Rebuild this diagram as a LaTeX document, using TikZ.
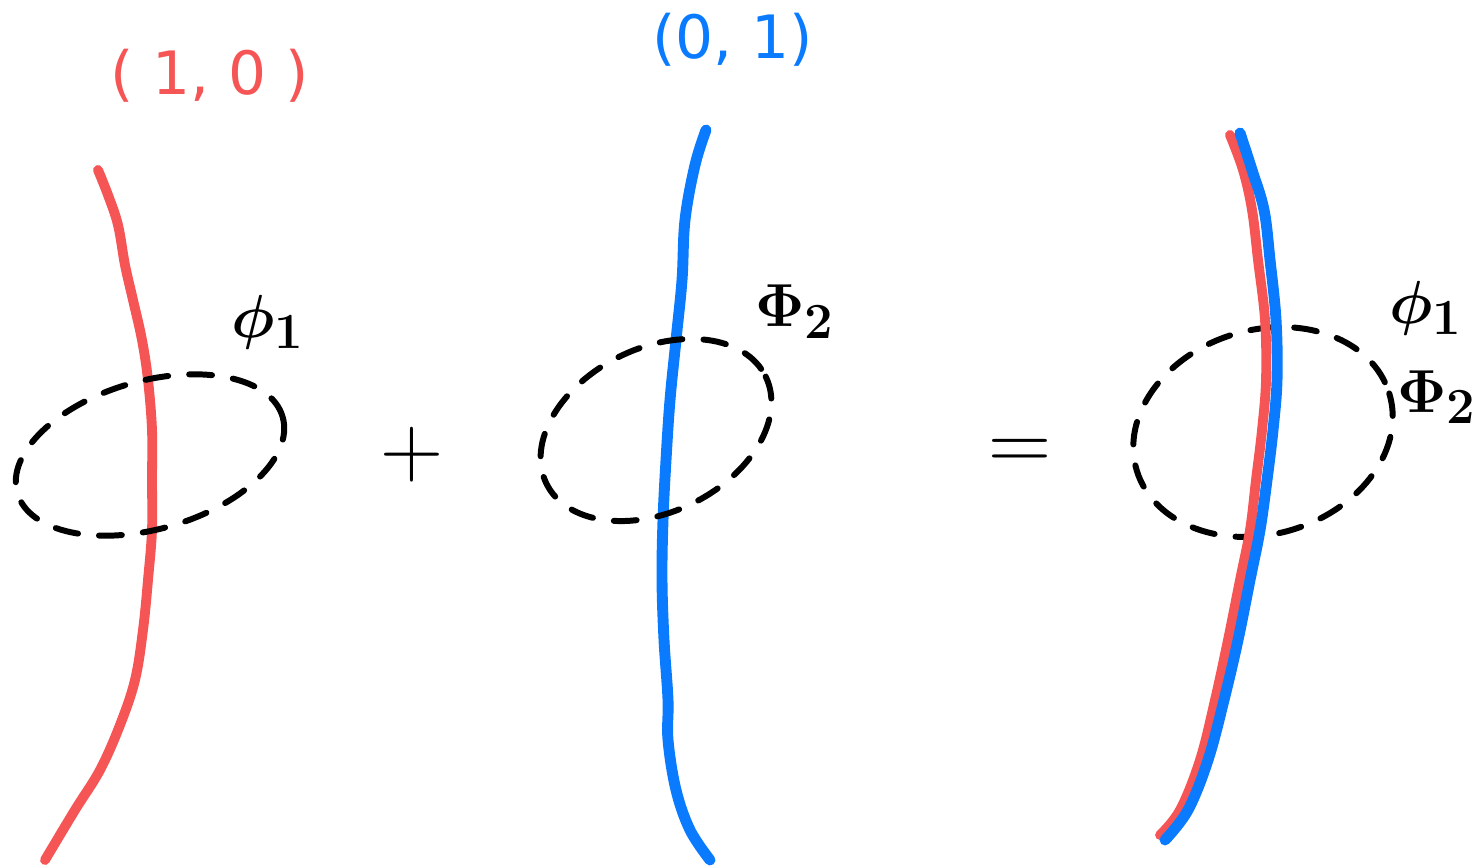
\documentclass[tikz,border=0pt]{standalone}
\usepackage{fontspec}
\setsansfont{DejaVu Sans}
\usepackage{amsmath}
\usepackage{bm}
\definecolor{sred}{HTML}{F65555}
\definecolor{sblue}{HTML}{0A7BFF}
\tikzset{
  redline/.style={draw=sred,line width=2.8pt,line cap=round,line join=round},
  blueline/.style={draw=sblue,line width=3.1pt,line cap=round,line join=round},
  dashloop/.style={draw=black,line width=1.7pt,line cap=round,dash pattern=on 6.5pt off 6pt},
  vlabel/.style={font=\sffamily\fontsize{17}{17}\selectfont},
  flabel/.style={font=\fontsize{19}{19}\selectfont},
  oplabel/.style={font=\fontsize{28}{28}\selectfont},
}
\begin{document}
\begin{tikzpicture}[x=0.01cm,y=-0.01cm]
\useasboundingbox (0,0) rectangle (1483,867);
% left
\draw[redline] plot[smooth,tension=0.6] coordinates {(98,170) (108,195) (118,225) (125,265) (133,300) (142,340) (148,380) (152,430) (152,480) (152,530) (148,580) (143,630) (135,680) (120,725) (100,770) (75,810) (45,860)};
\draw[dashloop] (150,455) ellipse[x radius=138, y radius=74, rotate=16];
\node[vlabel,text=sred] (lv) at (210,76) {( 1, 0 )};
\node[flabel] (lp) at (268,322) {$\bm{\phi_1}$};
\node[oplabel] (plus) at (412,455) {$+$};
% middle
\draw[blueline] plot[smooth,tension=0.6] coordinates {(706,130) (695,165) (685,220) (682,280) (676,340) (670,400) (666,460) (663,520) (662,580) (664,640) (668,700) (668,740) (676,790) (690,830) (710,860)};
\draw[dashloop] (656,430) ellipse[x radius=122, y radius=82, rotate=26];
\node[vlabel,text=sblue] (mv) at (733,40) {(0, 1)};
\node[flabel] (mp) at (795,312) {$\bm{\Phi_2}$};
\node[oplabel] (eq) at (1020,455) {$=$};
% right
\draw[dashloop] (1263,432) ellipse[x radius=132, y radius=102, rotate=17];
\draw[redline] plot[smooth,tension=0.6] coordinates {(1230,135) (1243,170) (1252,210) (1258,260) (1265,320) (1266,380) (1262,430) (1256,480) (1250,530) (1240,580) (1228,640) (1215,700) (1200,760) (1180,810) (1160,835)};
\draw[blueline] plot[smooth,tension=0.6] coordinates {(1240,133) (1252,170) (1264,210) (1270,260) (1276,320) (1277,380) (1273,430) (1267,480) (1260,530) (1250,580) (1238,640) (1224,700) (1208,760) (1188,810) (1165,840)};
\node[flabel] (rp1) at (1426,308) {$\bm{\phi_1}$};
\node[flabel,anchor=east,inner sep=1pt] (rp2) at (1481,397) {$\bm{\Phi_2}$};
\end{tikzpicture}
\end{document}
